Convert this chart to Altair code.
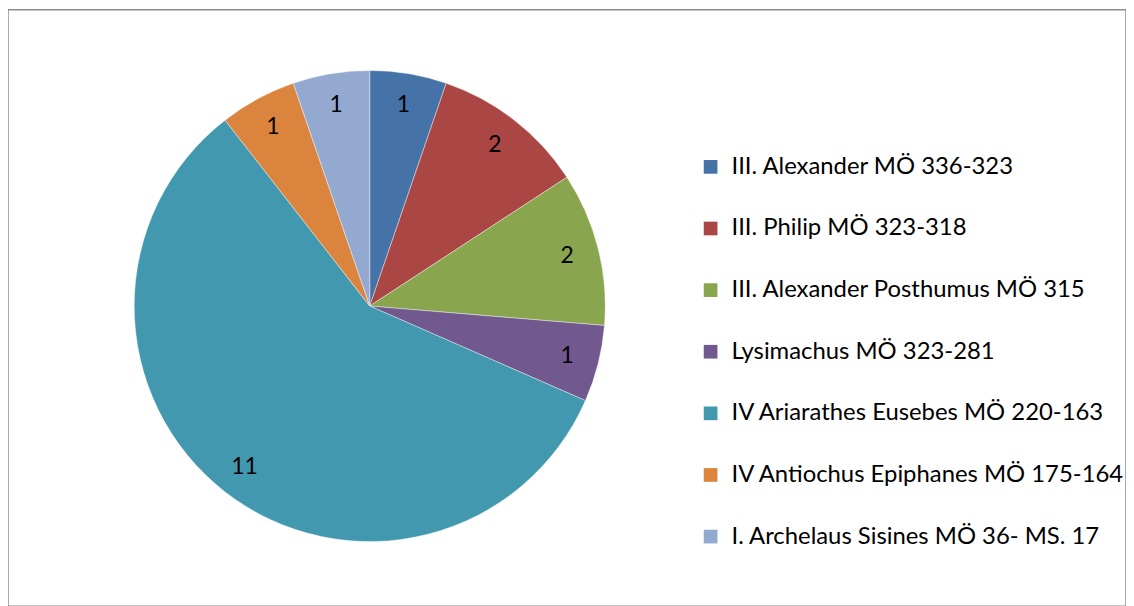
import altair as alt
import pandas as pd

names = [
    "III. Alexander MÖ 336-323",
    "III. Philip MÖ 323-318",
    "III. Alexander Posthumus MÖ 315",
    "Lysimachus MÖ 323-281",
    "IV Ariarathes Eusebes MÖ 220-163",
    "IV Antiochus Epiphanes MÖ 175-164",
    "I. Archelaus Sisines MÖ 36- MS. 17",
]
counts = [1, 2, 2, 1, 11, 1, 1]
colors = ["#4572A7", "#AA4643", "#89A54E", "#71588F", "#4198AF", "#DB843D", "#93A9CF"]

df = pd.DataFrame({"name": names, "count": counts, "order": list(range(len(names)))})

FONT = "Lato"
cx, cy, R = 364, 298, 237

base = alt.Chart(df).encode(
    theta=alt.Theta("count:Q", stack=True),
    order=alt.Order("order:Q"),
)

pie = base.mark_arc(outerRadius=R, stroke="white", strokeWidth=0.4).encode(
    x=alt.value(cx),
    y=alt.value(cy),
    color=alt.Color(
        "name:N",
        scale=alt.Scale(domain=names, range=colors),
        sort=names,
        legend=alt.Legend(
            title=None,
            orient="none",
            legendX=695,
            legendY=146,
            symbolType="square",
            symbolSize=190,
            symbolStrokeWidth=0,
            labelFontSize=24,
            labelFont=FONT,
            labelColor="#000000",
            labelLimit=500,
            labelOffset=9,
            rowPadding=38,
        ),
    ),
)

labels = base.mark_text(radius=205, fontSize=23, font=FONT, color="#000000").encode(
    x=alt.value(cx),
    y=alt.value(cy),
    text="count:Q",
)

chart = (
    alt.layer(pie, labels)
    .properties(width=1125, height=600, padding=0, autosize=alt.AutoSizeParams(type="none"))
    .configure_view(stroke="#8c8c8c", strokeWidth=1.5)
)

chart.save("out.html", embed_options={"renderer": "svg", "actions": False})
